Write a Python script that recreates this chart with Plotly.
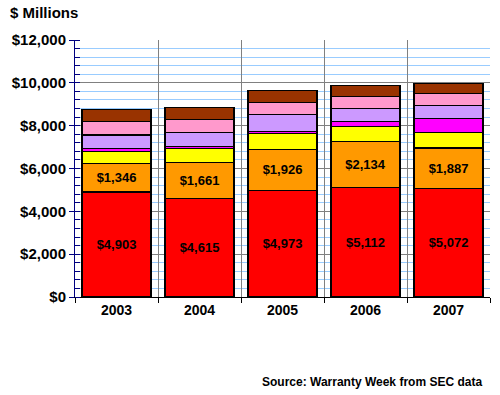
import plotly.graph_objects as go

years = ["2003", "2004", "2005", "2006", "2007"]
seg_red = [4903, 4615, 4973, 5112, 5072]
seg_orange = [1346, 1661, 1926, 2134, 1887]
seg_yellow = [545, 654, 751, 712, 737]
seg_magenta = [140, 115, 95, 252, 654]
seg_purple = [635, 640, 794, 608, 608]
seg_pink = [608, 589, 542, 542, 542]
seg_brown = [579, 579, 561, 533, 467]

series = [
    (seg_red, "#FF0000", True),
    (seg_orange, "#FF9900", True),
    (seg_yellow, "#FFFF00", False),
    (seg_magenta, "#FF00FF", False),
    (seg_purple, "#CC99FF", False),
    (seg_pink, "#FF99CC", False),
    (seg_brown, "#993300", False),
]

FONT = "Liberation Sans, Arial, sans-serif"

PL, PR, PT, PB = 75, 490, 40, 297  # plot area in window pixels
W, H = 500, 395

fig = go.Figure()
for vals, color, labeled in series:
    fig.add_trace(go.Bar(
        x=years, y=vals,
        marker=dict(color=color, line=dict(color="#000000", width=1.2)),
        text=[f"${v:,}" for v in vals] if labeled else None,
        textposition="inside" if labeled else "none",
        insidetextanchor="middle",
        textangle=0,
        constraintext="none",
        textfont=dict(family=FONT, size=13, color="#000000", weight="bold"),
        hoverinfo="skip",
    ))

fig.update_layout(
    barmode="stack",
    bargap=0.17,
    width=W, height=H,
    margin=dict(l=PL, r=W - PR, t=PT, b=H - PB, pad=0),
    paper_bgcolor="#FFFFFF",
    plot_bgcolor="#FFFFFF",
    showlegend=False,
    font=dict(family=FONT, color="#000000"),
    xaxis=dict(
        type="category",
        tickson="boundaries",
        showgrid=True, gridcolor="#808080", gridwidth=1,
        showline=True, linecolor="#000000", linewidth=1,
        ticks="outside", ticklen=5, tickcolor="#000000",
        tickfont=dict(family=FONT, size=14, color="#000000", weight="bold"),
        automargin=False,
    ),
    yaxis=dict(
        range=[0, 12000],
        dtick=2000,
        tickprefix="$", tickformat=",",
        showgrid=True, gridcolor="#808080", gridwidth=1,
        showline=True, linecolor="#000080", linewidth=1,
        ticks="outside", ticklen=5, tickcolor="#000080",
        tickfont=dict(family=FONT, size=15, color="#000000", weight="bold"),
        zeroline=False,
        automargin=False,
        minor=dict(dtick=400, showgrid=True, gridcolor="#99CCFF", gridwidth=1,
                   ticks="inside", ticklen=5, tickcolor="#000080"),
    ),
)

pw, ph = PR - PL, PB - PT
fig.add_annotation(
    text="$ Millions", xref="paper", yref="paper",
    x=(8 - PL) / pw, y=(PB - 13) / ph, xanchor="left", yanchor="middle",
    showarrow=False,
    font=dict(family=FONT, size=15, color="#000000", weight="bold"),
)
fig.add_annotation(
    text="Source: Warranty Week from SEC data", xref="paper", yref="paper",
    x=(484 - PL) / pw, y=(PB - 382) / ph, xanchor="right", yanchor="middle",
    showarrow=False,
    font=dict(family=FONT, size=12, color="#000000", weight="bold"),
)

fig.write_html("out.html", config={"displayModeBar": False},
               post_script="document.body.style.margin='0px';")
